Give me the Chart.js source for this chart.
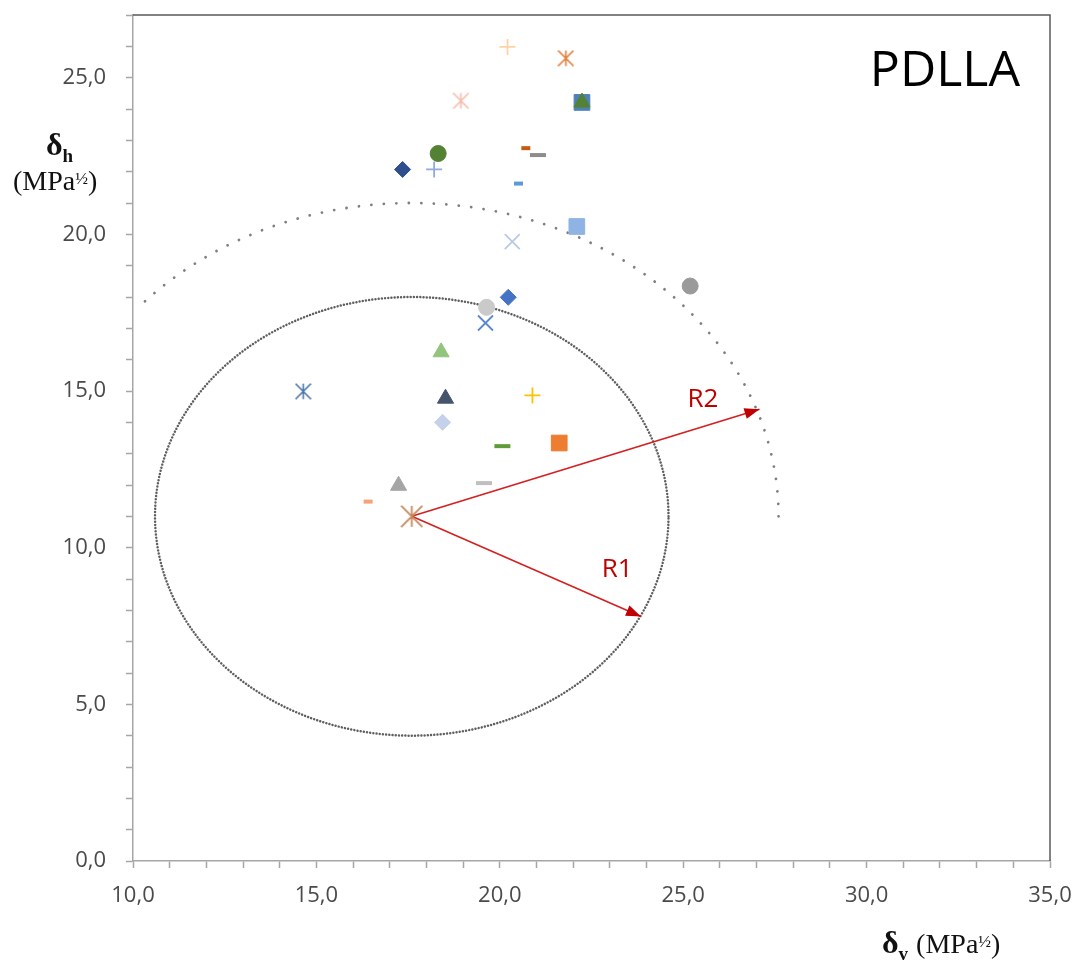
<!DOCTYPE html>
<html>
<head>
<meta charset="utf-8">
<script src="https://cdn.jsdelivr.net/npm/chart.js@4.4.0/dist/chart.umd.min.js"></script>
<style>
  html, body { margin: 0; padding: 0; background: #fff; }
  #wrap { width: 1083px; height: 965px; }
</style>
</head>
<body>
<div id="wrap"><canvas id="hansen"></canvas></div>
<script>
// solvent positions in the (delta_v, delta_h) plane
const deltaV = [20.21, 21.80, 18.94, 22.24, 22.24, 18.32, 17.35, 18.21, 20.71, 21.04, 20.51, 22.10, 20.34,
                25.19, 20.23, 19.64, 19.61, 18.40, 14.64, 18.52, 20.89, 18.44, 20.07, 21.62, 19.57, 17.24, 16.41, 17.60];
const deltaH = [25.98, 25.62, 24.26, 24.21, 24.21, 22.58, 22.07, 22.07, 22.75, 22.53, 21.62, 20.25, 19.77,
                18.35, 17.99, 17.67, 17.17, 16.24, 14.99, 14.76, 14.86, 14.00, 13.24, 13.34, 12.06, 11.98, 11.47, 11.00];

// marker look for each solvent
const markerShape = ['cross', 'star', 'star', 'rect', 'triangle', 'circle', 'rectRot', 'cross', 'line', 'line', 'line', 'rect', 'crossRot',
                     'circle', 'rectRot', 'circle', 'crossRot', 'triangle', 'star', 'triangle', 'cross', 'rectRot', 'line', 'rect', 'line', 'triangle', 'line', 'bigstar'];
const markerColor = ['#fdd3a3', '#e07b39', '#f5bcab', '#4f80b9', '#548235', '#548235', '#2f4f8c', '#8faadc', '#c55a11', '#8c8c8c', '#5b9bd5', '#8fb4e3', '#b9c9e8',
                     '#9a9a9a', '#4472c4', '#cacaca', '#5b87cc', '#93c47d', '#4a76a8', '#44546a', '#ffc000', '#c5d0ea', '#5e9c3a', '#ed7d31', '#bfbfbf', '#a5a5a5', '#f4a27b', '#c5895a'];

// polymer sphere: centre and the two radii
const centerV = 17.6, centerH = 11.0;
const radius1 = 7.0, radius2 = 10.0;
const arc2Start = 0, arc2End = 138; // degrees, outer arc is only partly drawn

// radius arrows and their labels
const arrowNames = ['R1', 'R2'];
const arrowTipV = [23.85, 27.08];
const arrowTipH = [7.80, 14.42];
const labelV = [23.20, 25.54];
const labelH = [9.06, 14.48];

const title = 'PDLLA';

function asterisk(color, size, lw) {
  const c = document.createElement('canvas');
  c.width = size; c.height = size;
  const g = c.getContext('2d');
  g.strokeStyle = color;
  g.lineWidth = lw;
  const m = lw / 2;
  g.beginPath();
  g.moveTo(size / 2, m); g.lineTo(size / 2, size - m);
  g.moveTo(m, m); g.lineTo(size - m, size - m);
  g.moveTo(size - m, m); g.lineTo(m, size - m);
  g.stroke();
  return c;
}

const sizeOf = { cross: 8, star: 8, rect: 11.1, triangle: 9.3, circle: 8, rectRot: 8, line: 8, crossRot: 10.6, bigstar: 11 };
const styles = markerShape.map((s, i) => {
  if (s === 'star') return asterisk(markerColor[i], 17, 1.6);
  if (s === 'bigstar') return asterisk(markerColor[i], 23, 1.8);
  return s;
});
const radii = markerShape.map((s, i) => {
  if (s === 'line' && [8, 10, 26].includes(i)) return 4.5;
  return sizeOf[s];
});
const borderWidths = markerShape.map(s => {
  if (s === 'line') return 4;
  if (s === 'cross' || s === 'crossRot') return 1.8;
  return 1;
});

function circlePoints(r, from, to) {
  const pts = [];
  for (let a = from; a <= to; a += 1) {
    const t = a * Math.PI / 180;
    pts.push({ x: centerV + r * Math.cos(t), y: centerH + r * Math.sin(t) });
  }
  return pts;
}

const extras = {
  id: 'extras',
  afterDatasetsDraw(chart) {
    const { ctx, chartArea: area, scales: { x, y } } = chart;
    ctx.save();
    // frame on top and right
    ctx.strokeStyle = '#595959';
    ctx.lineWidth = 1.5;
    ctx.beginPath();
    ctx.moveTo(area.left, area.top);
    ctx.lineTo(area.right, area.top);
    ctx.lineTo(area.right, area.bottom);
    ctx.stroke();

    // arrow heads
    const cx = x.getPixelForValue(centerV), cy = y.getPixelForValue(centerH);
    ctx.fillStyle = '#c00000';
    arrowNames.forEach((n, i) => {
      const tx = x.getPixelForValue(arrowTipV[i]), ty = y.getPixelForValue(arrowTipH[i]);
      const ang = Math.atan2(ty - cy, tx - cx);
      ctx.save();
      ctx.translate(tx, ty);
      ctx.rotate(ang);
      ctx.beginPath();
      ctx.moveTo(0, 0);
      ctx.lineTo(-15, -5.5);
      ctx.lineTo(-15, 5.5);
      ctx.closePath();
      ctx.fill();
      ctx.restore();
      ctx.font = '26px "Open Sans"';
      ctx.textAlign = 'center';
      ctx.textBaseline = 'alphabetic';
      ctx.fillText(n, x.getPixelForValue(labelV[i]), y.getPixelForValue(labelH[i]));
    });

    // title
    ctx.fillStyle = '#000';
    ctx.font = '50px "Open Sans"';
    ctx.textAlign = 'right';
    ctx.fillText(title, area.right - 30, 86);

    // axis titles with subscripts
    ctx.textAlign = 'left';
    ctx.fillStyle = '#111';
    const unit = (x0, base) => {
      ctx.font = '28px "Liberation Serif"';
      ctx.fillText('(MPa', x0, base);
      let w = ctx.measureText('(MPa').width;
      ctx.font = '17px "Liberation Serif"';
      ctx.fillText('\u00bd', x0 + w, base - 6);
      w += ctx.measureText('\u00bd').width;
      ctx.font = '28px "Liberation Serif"';
      ctx.fillText(')', x0 + w, base);
    };
    const delta = (x0, base, sub) => {
      ctx.font = 'bold 32px "Liberation Serif"';
      ctx.fillText('\u03b4', x0, base);
      const w = ctx.measureText('\u03b4').width;
      ctx.font = 'bold 19px "Liberation Serif"';
      ctx.fillText(sub, x0 + w, base + 7);
      return x0 + w + ctx.measureText(sub).width;
    };
    delta(46, 155, 'h');
    unit(13, 190);
    const end = delta(882, 953, 'v');
    unit(end + 8, 953);
    ctx.restore();
  }
};

const tickFmt = v => (v % 5 === 0 ? v.toFixed(1).replace('.', ',') : '');

new Chart(document.getElementById('hansen'), {
  type: 'scatter',
  data: {
    datasets: [
      {
        data: deltaV.map((v, i) => ({ x: v, y: deltaH[i] })),
        pointStyle: styles,
        pointRadius: radii,
        pointBackgroundColor: markerColor,
        pointBorderColor: markerColor,
        pointBorderWidth: borderWidths
      },
      {
        data: [{ x: centerV, y: centerH }, { x: arrowTipV[0], y: arrowTipH[0] }],
        showLine: true, pointRadius: 0, borderColor: '#d42020', borderWidth: 1.6
      },
      {
        data: [{ x: centerV, y: centerH }, { x: arrowTipV[1], y: arrowTipH[1] }],
        showLine: true, pointRadius: 0, borderColor: '#d42020', borderWidth: 1.6
      },
      {
        data: circlePoints(radius1, 0, 360),
        showLine: true, pointRadius: 0, borderColor: '#5f5f5f', borderWidth: 2.5,
        borderDash: [0.01, 3.2], borderCapStyle: 'round'
      },
      {
        data: circlePoints(radius2, arc2Start, arc2End),
        showLine: true, pointRadius: 0, borderColor: '#7f7f7f', borderWidth: 2.8,
        borderDash: [0.01, 12.5], borderCapStyle: 'round'
      }
    ]
  },
  options: {
    responsive: true,
    maintainAspectRatio: false,
    animation: false,
    layout: { padding: { top: 15, right: 33, left: 0, bottom: 0 } },
    plugins: { legend: { display: false }, tooltip: { enabled: false } },
    scales: {
      x: {
        min: 10, max: 35,
        afterFit: s => { s.height = 104; s.paddingLeft = 0; s.paddingRight = 0; },
        border: { color: '#a6a6a6', width: 1.5 },
        grid: { drawOnChartArea: false, drawTicks: true, tickLength: 7, color: '#a6a6a6', tickWidth: 1.5 },
        ticks: { stepSize: 1, autoSkip: false, maxRotation: 0, padding: 15, color: '#4a4a4a',
                 font: { family: 'Open Sans', size: 22 }, callback: tickFmt }
      },
      y: {
        min: 0, max: 27,
        afterFit: s => { s.width = 133; s.paddingTop = 0; s.paddingBottom = 0; },
        border: { color: '#a6a6a6', width: 1.5 },
        grid: { drawOnChartArea: false, drawTicks: true, tickLength: 7, color: '#a6a6a6', tickWidth: 1.5 },
        ticks: { stepSize: 1, autoSkip: false, padding: 20, color: '#4a4a4a',
                 font: { family: 'Open Sans', size: 22 }, callback: tickFmt }
      }
    }
  },
  plugins: [extras]
});
</script>
</body>
</html>
